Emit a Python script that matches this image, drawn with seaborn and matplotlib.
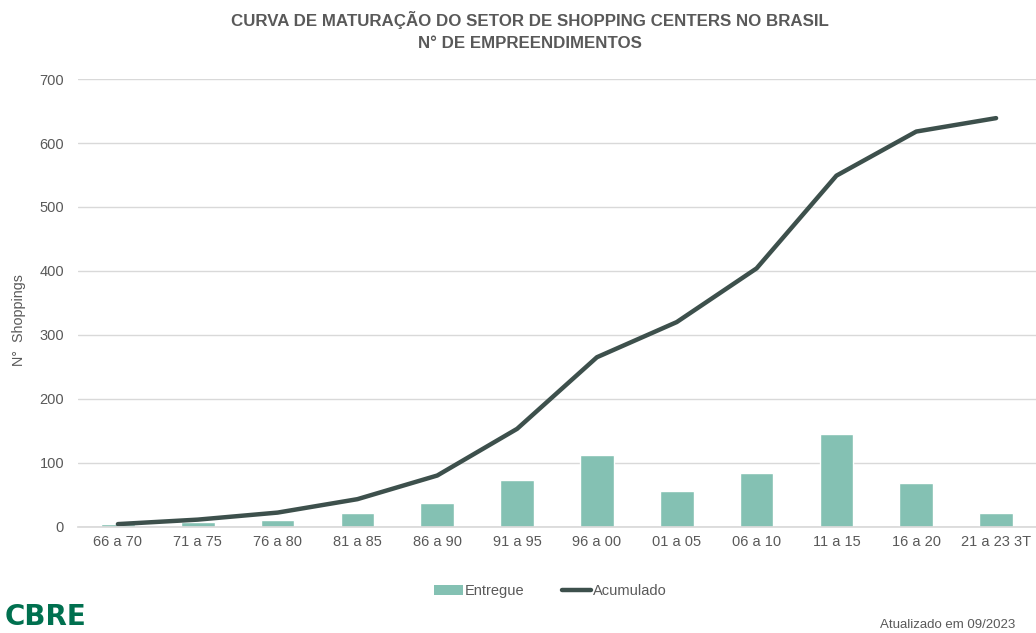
import matplotlib
matplotlib.use("Agg")
import matplotlib.pyplot as plt
import seaborn as sns
import pandas as pd
from matplotlib.patches import Patch
from matplotlib.lines import Line2D

categories = ["66 a 70", "71 a 75", "76 a 80", "81 a 85", "86 a 90", "91 a 95",
              "96 a 00", "01 a 05", "06 a 10", "11 a 15", "16 a 20", "21 a 23 3T"]
entregue = [4, 7, 11, 21, 37, 73, 112, 55, 84, 145, 69, 21]
acumulado = [4, 11, 22, 43, 80, 153, 265, 320, 404, 549, 618, 639]

sns.set_theme(style="white")
plt.rcParams['font.family'] = ['Liberation Sans', 'DejaVu Sans']

GRAY = "#595959"
BAR = "#84c1b3"
LINE = "#3d504c"

df = pd.DataFrame({"cat": categories, "Entregue": entregue, "Acumulado": acumulado})

fig = plt.figure(figsize=(10.36, 6.33), dpi=100)
ax = fig.add_axes([0.0753, 0.168, 0.9247, 0.707])

sns.barplot(data=df, x="cat", y="Entregue", color=BAR, width=0.42, ax=ax, saturation=1)
sns.lineplot(data=df, x="cat", y="Acumulado", color=LINE, linewidth=3.2, ax=ax, sort=False)

ax.set_ylim(0, 700)
ax.set_xlim(-0.5, 11.5)
ax.set_yticks(range(0, 701, 100))
ax.yaxis.grid(True, color="#d9d9d9", linewidth=1)
ax.set_axisbelow(True)
for s in ["top", "right", "left"]:
    ax.spines[s].set_visible(False)
ax.spines["bottom"].set_color("#d9d9d9")
ax.tick_params(axis="both", colors=GRAY, labelsize=10.5, length=0, pad=6)
ax.tick_params(axis="y", pad=10)
ax.set_xlabel("")
ax.set_ylabel("")

fig.text(0.018, 0.494, "N°  Shoppings", rotation=90, ha="center", va="center",
         fontsize=10.3, color=GRAY)

fig.text(0.512, 0.968, "CURVA DE MATURAÇÃO DO SETOR DE SHOPPING CENTERS NO BRASIL",
         ha="center", va="center", fontsize=12.2, fontweight="bold", color=GRAY)
fig.text(0.512, 0.932, "N° DE EMPREENDIMENTOS",
         ha="center", va="center", fontsize=12.2, fontweight="bold", color=GRAY)

handles = [Patch(facecolor=BAR, edgecolor="none"),
           Line2D([0], [0], color=LINE, linewidth=3.2)]
fig.legend(handles, ["Entregue", "Acumulado"], loc="center", bbox_to_anchor=(0.531, 0.066),
           ncol=2, frameon=False, fontsize=10.5, labelcolor=GRAY, handlelength=2.0,
           handletextpad=0.1, columnspacing=2.6)

fig.text(0.004, 0.013, "CBRE", ha="left", va="baseline", fontsize=20, fontweight="bold",
         color="#00704f", family="DejaVu Sans")
fig.text(0.980, 0.008, "Atualizado em 09/2023", ha="right", va="baseline", fontsize=9.5,
         color=GRAY)

fig.savefig("out.png", dpi=100)
